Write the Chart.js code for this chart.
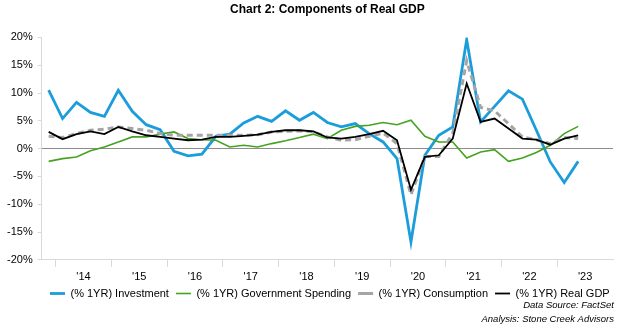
<!DOCTYPE html>
<html>
<head>
<meta charset="utf-8">
<script src="https://cdn.jsdelivr.net/npm/chart.js@4.4.0/dist/chart.umd.min.js"></script>
<style>
  html, body { margin: 0; padding: 0; background: #fff; }
  #wrap { width: 619px; height: 328px; }
</style>
</head>
<body>
<div id="wrap"><canvas id="gdp-components"></canvas></div>
<script>
/* ---- Components of Real GDP, year-over-year % change, quarterly ---- */

var quarters = [
  '2013 Q4',
  '2014 Q1', '2014 Q2', '2014 Q3', '2014 Q4',
  '2015 Q1', '2015 Q2', '2015 Q3', '2015 Q4',
  '2016 Q1', '2016 Q2', '2016 Q3', '2016 Q4',
  '2017 Q1', '2017 Q2', '2017 Q3', '2017 Q4',
  '2018 Q1', '2018 Q2', '2018 Q3', '2018 Q4',
  '2019 Q1', '2019 Q2', '2019 Q3', '2019 Q4',
  '2020 Q1', '2020 Q2', '2020 Q3', '2020 Q4',
  '2021 Q1', '2021 Q2', '2021 Q3', '2021 Q4',
  '2022 Q1', '2022 Q2', '2022 Q3', '2022 Q4',
  '2023 Q1', '2023 Q2', '2023 Q3', '2023 Q4'
];

var yearTicks = ["'14", "'15", "'16", "'17", "'18", "'19", "'20", "'21", "'22", "'23"];

var investment = [10.5, 5.4, 8.3, 6.5, 5.8, 10.5, 6.7, 4.3, 3.4, -0.5, -1.3,
  -1.0, 2.2, 2.6, 4.6, 5.8, 4.9, 6.8, 5.1, 6.5, 4.7,
  3.9, 4.5, 2.7, 1.2, -1.8, -16.8, -1.2, 2.4, 3.9, 19.6,
  4.8, 7.6, 10.4, 8.9, 3.3, -2.4, -6.1, -2.3];

var govSpending = [-2.3, -1.8, -1.5, -0.4, 0.3, 1.2, 2.1, 2.1, 2.6, 3.0, 1.8,
  1.6, 1.5, 0.3, 0.6, 0.3, 0.9, 1.4, 2.0, 2.6, 1.8,
  3.3, 4.0, 4.2, 4.7, 4.3, 5.1, 2.2, 1.2, 1.2, -1.7,
  -0.6, -0.2, -2.3, -1.7, -0.7, 0.6, 2.7, 4.0];

var consumption = [2.2, 2.0, 2.7, 3.3, 3.5, 3.9, 3.6, 3.3, 2.7, 2.4, 2.4,
  2.4, 2.4, 2.4, 2.4, 2.5, 3.0, 3.1, 3.2, 3.0, 2.1,
  1.5, 1.6, 2.2, 2.8, 0.9, -8.3, -1.4, -1.4, 2.8, 15.8,
  7.4, 6.8, 4.5, 2.1, 1.6, 0.9, 2.0, 1.8];

var realGdp = [3.0, 1.7, 2.6, 3.1, 2.6, 3.9, 3.1, 2.4, 2.1, 1.8, 1.5,
  1.6, 2.1, 2.1, 2.3, 2.5, 3.0, 3.3, 3.3, 3.1, 2.0,
  1.8, 2.1, 2.6, 3.2, 1.5, -7.4, -1.5, -1.2, 1.8, 11.7,
  4.8, 5.4, 3.6, 1.8, 1.6, 0.7, 1.8, 2.4];

var footnotes = ['Data Source: FactSet', 'Analysis: Stone Creek Advisors'];

(function() {
  var FONT = "'Liberation Sans', Arial, sans-serif";
  var axisGray = '#d9d9d9';

  // move the legend row right and pull it up under the year labels
  var legendShift = {
    id: 'legendShift',
    afterLayout: function(chart) {
      var lg = chart.legend;
      if (!lg) return;
      lg.left = 43;
      lg.right = chart.width;
      lg.top -= 7;
      lg.bottom -= 7;
    }
  };

  // source lines, right aligned under the legend
  var sourceNote = {
    id: 'sourceNote',
    afterDraw: function(chart) {
      var ctx = chart.ctx;
      ctx.save();
      ctx.font = "italic 9.5px " + FONT;
      ctx.fillStyle = '#000';
      ctx.textAlign = 'right';
      ctx.textBaseline = 'middle';
      ctx.fillText(footnotes[0], 614, 305);
      ctx.fillText(footnotes[1], 614, 319);
      ctx.restore();
    }
  };

  var ctx = document.getElementById('gdp-components');
  Chart.defaults.font.family = FONT;
  Chart.defaults.color = '#000';

  new Chart(ctx, {
    type: 'line',
    data: {
      labels: quarters,
      datasets: [{
        label: '(% 1YR) Investment',
        data: investment,
        borderColor: '#1b9ddb',
        backgroundColor: '#1b9ddb',
        borderWidth: 2.8,
        pointRadius: 0,
        pointStyle: 'line',
        order: 3
      }, {
        label: '(% 1YR) Government Spending',
        data: govSpending,
        borderColor: '#45a321',
        backgroundColor: '#45a321',
        borderWidth: 1.6,
        pointRadius: 0,
        pointStyle: 'line',
        order: 2
      }, {
        label: '(% 1YR) Consumption',
        data: consumption,
        borderColor: '#a5a5a5',
        backgroundColor: '#a5a5a5',
        borderWidth: 3,
        borderDash: [6, 4],
        pointRadius: 0,
        pointStyle: 'line',
        order: 1
      }, {
        label: '(% 1YR) Real GDP',
        data: realGdp,
        borderColor: '#000',
        backgroundColor: '#000',
        borderWidth: 1.8,
        pointRadius: 0,
        pointStyle: 'line',
        order: 0
      }]
    },
    options: {
      responsive: true,
      maintainAspectRatio: false,
      animation: false,
      events: [],
      layout: { padding: { left: 2, right: 6, top: 0, bottom: 12 } },
      plugins: {
        title: {
          display: true,
          fullSize: false,
          text: 'Chart 2: Components of Real GDP',
          font: { family: FONT, size: 12, weight: 'bold' },
          color: '#000',
          padding: { top: 2, bottom: 21 }
        },
        legend: {
          position: 'bottom',
          align: 'start',
          labels: {
            usePointStyle: true,
            pointStyleWidth: 15,
            padding: 7,
            color: '#000',
            font: { family: FONT, size: 11 },
            sort: function(a, b) { return a.datasetIndex - b.datasetIndex; }
          }
        },
        tooltip: { enabled: false }
      },
      scales: {
        x: {
          offset: true,
          grid: {
            offset: true,
            drawOnChartArea: false,
            drawTicks: true,
            tickLength: 7,
            tickColor: function(c) {
              var i = c.index;
              if (i === undefined || i >= quarters.length) return 'transparent';
              return /Q1$/.test(quarters[i]) ? axisGray : 'transparent';
            }
          },
          border: { display: true, color: axisGray, width: 1 },
          ticks: {
            autoSkip: false,
            maxRotation: 0,
            minRotation: 0,
            labelOffset: 7,
            padding: 4,
            font: { family: FONT, size: 11 },
            color: '#000',
            callback: function(value, index) {
              var q = quarters[index];
              if (!/Q2$/.test(q)) return '';
              return yearTicks[(index - 2) / 4];
            }
          }
        },
        y: {
          min: -20,
          max: 20,
          grid: {
            drawOnChartArea: true,
            drawTicks: true,
            tickLength: 4,
            tickColor: axisGray,
            color: function(c) {
              return c.tick && c.tick.value === 0 ? '#8c8c8c' : 'transparent';
            }
          },
          border: { display: true, color: axisGray, width: 1 },
          ticks: {
            stepSize: 5,
            padding: 5,
            font: { family: FONT, size: 11 },
            color: '#000',
            callback: function(v) { return v + '%'; }
          }
        }
      }
    },
    plugins: [legendShift, sourceNote]
  });
})();
</script>
</body>
</html>
